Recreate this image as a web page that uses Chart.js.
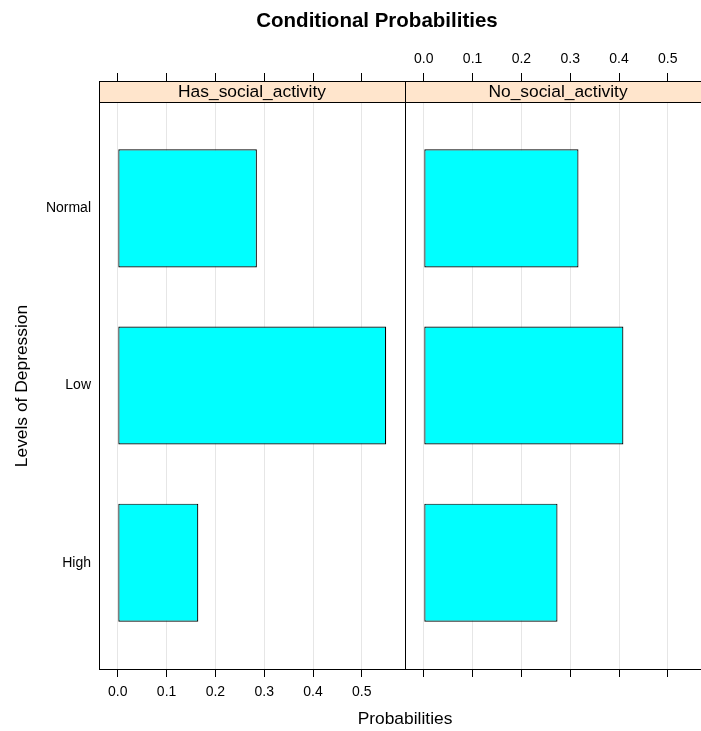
<!DOCTYPE html>
<html>
<head>
<meta charset="utf-8">
<script src="https://cdn.jsdelivr.net/npm/chart.js@4/dist/chart.umd.min.js"></script>
<style>
  html, body { margin: 0; padding: 0; background: #fff; }
  #wrap { position: relative; width: 701px; height: 731px; overflow: hidden; background: #fff;
          font-family: "Liberation Sans", Arial, sans-serif; color: #000; }
  #wrap canvas { position: absolute; top: 0; left: 0; }
  .txt { position: absolute; white-space: nowrap; text-align: center; }
  #title { left: 0; width: 754px; top: 8px; height: 24px; line-height: 24px; font-size: 20.5px; font-weight: bold; }
  #xlab { left: 99px; width: 612px; top: 708px; height: 20px; line-height: 20px; font-size: 17.4px; }
  #ylab { left: -129px; width: 300px; top: 376px; height: 20px; line-height: 20px; font-size: 17.4px;
          transform: rotate(-90deg); transform-origin: 50% 50%; }
</style>
</head>
<body>
<div id="wrap">
  <canvas id="panelA" width="406" height="731" style="width:406px;height:731px"></canvas>
  <canvas id="panelB" width="712" height="731" style="width:712px;height:731px"></canvas>
  <div class="txt" id="title">Conditional Probabilities</div>
  <div class="txt" id="xlab">Probabilities</div>
  <div class="txt" id="ylab">Levels of Depression</div>
</div>
<script>
// Levels of depression, listed bottom to top
const categories = ['High', 'Low', 'Normal'];
// Panel (conditioning) names
const panelNames = ['Has_social_activity', 'No_social_activity'];
// Conditional probabilities per level, same order as categories
const hasSocial = [0.165, 0.550, 0.285];
const noSocial  = [0.274, 0.409, 0.317];
// Probability axis ticks
const xTickValues = [0, 0.1, 0.2, 0.3, 0.4, 0.5];

const FONT = '"Liberation Sans", Arial, sans-serif';
const TICK_FONT = { family: FONT, size: 14 };
const STRIP_FONT = '17.4px ' + FONT;

// geometry of each panel
const CANVAS_H = 731;
const PLOT_TOP = 81, PLOT_BOTTOM = 669;   // panel frame incl. strip
const STRIP_H = 21;
const Y_AXIS_W = 99;
const PANEL_W = 306;

// numeric axis padded by 7% of the largest value on each side
const maxVal = Math.max(...hasSocial, ...noSocial);
const xMin = -0.07 * maxVal;
const xMax = maxVal * 1.07;

// category axis: each level sits on an integer position, half a band of margin
const yMin = 0.4;
const yMax = categories.length + 0.6;
// extend the value range upward so the strip fits inside the frame
const pxPerUnit = (PLOT_BOTTOM - PLOT_TOP - STRIP_H) / (yMax - yMin);
const yMaxWithStrip = yMax + STRIP_H / pxPerUnit;

const panelDecor = {
  id: 'panelDecor',
  beforeDatasetsDraw(chart, args, opts) {
    const { ctx, chartArea: a, scales } = chart;
    const sb = Math.round(scales.y.getPixelForValue(yMax));
    ctx.save();
    ctx.fillStyle = '#FFE5CC';
    ctx.fillRect(a.left, a.top, a.right - a.left, sb - a.top);
    ctx.strokeStyle = '#000';
    ctx.lineWidth = 1;
    ctx.beginPath();
    ctx.moveTo(a.left, sb + 0.5);
    ctx.lineTo(a.right, sb + 0.5);
    ctx.stroke();
    ctx.fillStyle = '#000';
    ctx.font = STRIP_FONT;
    ctx.textAlign = 'center';
    ctx.textBaseline = 'middle';
    ctx.fillText(opts.label, (a.left + a.right) / 2, (a.top + sb) / 2 + 1);
    ctx.restore();
  },
  afterDraw(chart) {
    const { ctx, chartArea: a } = chart;
    ctx.save();
    ctx.strokeStyle = '#000';
    ctx.lineWidth = 1;
    ctx.strokeRect(Math.round(a.left) + 0.5, Math.round(a.top) + 0.5,
                   Math.round(a.right - a.left), Math.round(a.bottom - a.top));
    ctx.restore();
  }
};

function xAxis(position, showLabels, drawGrid) {
  return {
    type: 'linear',
    position: position,
    min: xMin,
    max: xMax,
    offset: false,
    afterBuildTicks: ax => { ax.ticks = xTickValues.map(v => ({ value: v })); },
    afterFit: ax => { ax.height = position === 'top' ? PLOT_TOP : CANVAS_H - PLOT_BOTTOM; },
    ticks: {
      display: showLabels,
      autoSkip: false,
      maxRotation: 0,
      padding: position === 'top' ? 5.5 : 7,
      color: '#000',
      font: TICK_FONT,
      callback: v => Number(v).toFixed(1)
    },
    grid: {
      display: true,
      offset: false,
      drawOnChartArea: drawGrid,
      color: '#e6e6e6',
      lineWidth: 1,
      tickColor: '#000',
      tickLength: 8,
      tickWidth: 1
    },
    border: { display: true, color: '#000', width: 1 }
  };
}

function yAxis(showLabels, width) {
  return {
    type: 'linear',
    position: 'left',
    min: yMin,
    max: yMaxWithStrip,
    offset: false,
    bounds: 'data',
    afterBuildTicks: ax => { ax.ticks = categories.map((c, i) => ({ value: i + 1 })); },
    afterFit: ax => { ax.width = width; },
    ticks: {
      display: showLabels,
      padding: 8,
      color: '#000',
      font: TICK_FONT,
      callback: v => categories[Math.round(v) - 1]
    },
    grid: { display: false, offset: false, drawTicks: false },
    border: { display: true, color: '#000', width: 1 }
  };
}

function makePanel(canvasId, label, values, opts) {
  return new Chart(document.getElementById(canvasId), {
    type: 'bar',
    data: {
      datasets: [{
        label: label,
        data: values.map((v, i) => ({ x: v, y: i + 1 })),
        xAxisID: 'x',
        yAxisID: 'y',
        backgroundColor: '#00FFFF',
        borderColor: '#000',
        borderWidth: 1.2,
        borderSkipped: false,
        categoryPercentage: 1,
        barPercentage: 2 / 3,
        grouped: false
      }]
    },
    options: {
      indexAxis: 'y',
      responsive: false,
      animation: false,
      devicePixelRatio: 1,
      layout: { padding: { left: opts.padLeft, right: opts.padRight, top: 0, bottom: 0 } },
      scales: {
        x: xAxis('bottom', opts.bottomLabels, true),
        xt: xAxis('top', opts.topLabels, false),
        y: yAxis(opts.yLabels, opts.yWidth)
      },
      plugins: {
        legend: { display: false },
        tooltip: { enabled: false },
        title: { display: false },
        panelDecor: { label: label }
      }
    },
    plugins: [panelDecor]
  });
}

// left panel: labels on bottom axis and category axis
makePanel('panelA', panelNames[0], hasSocial, {
  padLeft: 0, padRight: 406 - (Y_AXIS_W + PANEL_W),
  bottomLabels: true, topLabels: false, yLabels: true, yWidth: Y_AXIS_W
});
// right panel: labels on top axis
makePanel('panelB', panelNames[1], noSocial, {
  padLeft: Y_AXIS_W + PANEL_W, padRight: 712 - (Y_AXIS_W + 2 * PANEL_W),
  bottomLabels: false, topLabels: true, yLabels: false, yWidth: 0
});
</script>
</body>
</html>
